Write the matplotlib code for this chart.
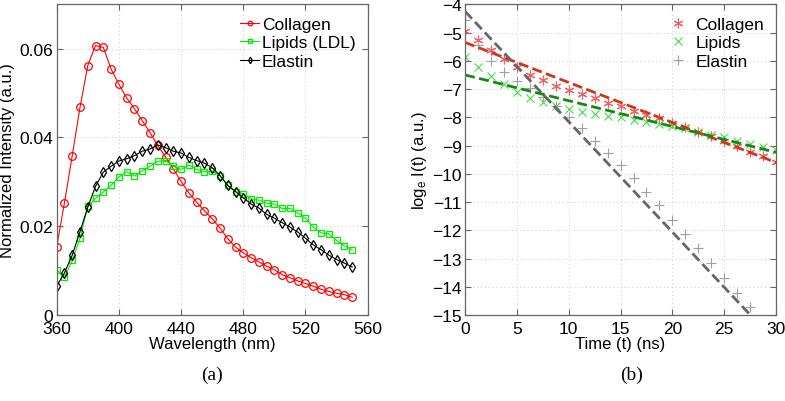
import numpy as np
import matplotlib
matplotlib.use("Agg")
import matplotlib.pyplot as plt

plt.rcParams['font.family'] = ['Liberation Sans', 'DejaVu Sans']
plt.rcParams['mathtext.fontset'] = 'custom'
plt.rcParams['mathtext.rm'] = 'Liberation Sans'
plt.rcParams['mathtext.it'] = 'Liberation Sans:italic'

# ----------------------------
# DATA (a) emission spectra
# ----------------------------
wavelength = np.arange(360, 555, 5)

collagen = [0.0153, 0.0253, 0.0359, 0.0468, 0.0562, 0.0607, 0.0603, 0.0554,
            0.0520, 0.0489, 0.0465, 0.0438, 0.0411, 0.0382, 0.0356, 0.0329,
            0.0301, 0.0275, 0.0254, 0.0235, 0.0217, 0.0196, 0.0172, 0.0153,
            0.0140, 0.0129, 0.0120, 0.0110, 0.0102, 0.0091, 0.0084, 0.0077,
            0.0071, 0.0065, 0.0058, 0.0053, 0.0049, 0.0046, 0.0040]

lipids = [0.0102, 0.0085, 0.0123, 0.0173, 0.0245, 0.0263, 0.0277, 0.0292,
          0.0311, 0.0323, 0.0313, 0.0325, 0.0335, 0.0346, 0.0348, 0.0335,
          0.0328, 0.0338, 0.0328, 0.0323, 0.0324, 0.0314, 0.0293, 0.0278,
          0.0273, 0.0262, 0.0259, 0.0252, 0.0250, 0.0240, 0.0240, 0.0230,
          0.0218, 0.0198, 0.0185, 0.0183, 0.0168, 0.0156, 0.0147]

elastin = [0.0065, 0.0095, 0.0135, 0.0188, 0.0243, 0.0290, 0.0322, 0.0335,
           0.0347, 0.0352, 0.0359, 0.0369, 0.0374, 0.0383, 0.0377, 0.0369,
           0.0365, 0.0355, 0.0348, 0.0342, 0.0332, 0.0314, 0.0292, 0.0278,
           0.0264, 0.0250, 0.0241, 0.0227, 0.0218, 0.0208, 0.0198, 0.0187,
           0.0173, 0.0158, 0.0147, 0.0135, 0.0125, 0.0117, 0.0108]

# ----------------------------
# DATA (b) decay curves
# ----------------------------
time_ns = np.arange(0, 30.01, 1.25)

collagen_log = [-4.93, -5.26, -5.62, -5.94, -6.23, -6.49, -6.68, -6.88, -7.02,
                -7.18, -7.33, -7.49, -7.61, -7.77, -7.92, -8.04, -8.20, -8.36,
                -8.51, -8.65, -8.83, -9.03, -9.22, -9.38, -9.57]

lipids_log = [-5.86, -6.21, -6.53, -6.82, -7.09, -7.30, -7.45, -7.61, -7.71,
              -7.80, -7.88, -7.95, -8.00, -8.08, -8.16, -8.24, -8.32, -8.39,
              -8.51, -8.63, -8.71, -8.83, -8.95, -9.06, -9.15]

elastin_log = [-4.54, -5.43, -6.01, -6.40, -6.71, -6.97, -7.29, -7.61, -8.00,
               -8.39, -8.83, -9.25, -9.70, -10.16, -10.63, -11.10, -11.62,
               -12.13, -12.64, -13.16, -13.70, -14.22, -14.73]

# linear fits (end points)
fit_t = [0, 30]
collagen_fit = [-5.35, -9.60]
lipids_fit = [-6.50, -9.24]
elastin_fit = [-4.25, -15.97]

# ----------------------------
# FIGURE
# ----------------------------
fig = plt.figure(figsize=(7.85, 4.02), dpi=100)
ax1 = fig.add_axes([0.0722, 0.2139, 0.3962, 0.7729])
ax2 = fig.add_axes([0.5924, 0.2139, 0.3962, 0.7729])


def style_axes(ax):
    for s in ax.spines.values():
        s.set_color('#666666')
        s.set_linewidth(0.9)
    ax.tick_params(direction='in', top=True, right=True, length=4,
                   color='#666666', labelsize=12.5, pad=2.5)
    ax.tick_params(axis='x', pad=4)
    ax.grid(True, linestyle=(0, (1, 3)), color='#c8c8c8', linewidth=0.7)
    ax.set_axisbelow(True)


# ----------------------------
# (a)
# ----------------------------
ax1.plot(wavelength, collagen, '-o', color='red', lw=0.8, ms=5.5,
         mfc='none', mew=0.9, label='Collagen')
ax1.plot(wavelength, lipids, '-s', color='#00ee00', lw=0.8, ms=5,
         mfc='none', mew=0.9, label='Lipids (LDL)')
ax1.plot(wavelength, elastin, '-d', color='black', lw=0.8, ms=5.5,
         mfc='none', mew=0.9, label='Elastin')
ax1.set_xlim(360, 560)
ax1.set_ylim(0, 0.07)
ax1.set_xticks([360, 400, 440, 480, 520, 560])
ax1.set_yticks([0, 0.02, 0.04, 0.06])
ax1.set_yticklabels(['0', '0.02', '0.04', '0.06'])
style_axes(ax1)
ax1.set_xlabel('Wavelength (nm)', fontsize=12, labelpad=0)
ax1.set_ylabel('Normalized Intensity (a.u.)', fontsize=12, labelpad=3)
ax1.legend(loc='upper right', frameon=False, fontsize=12.5, handlelength=1.1,
           handletextpad=0.15, labelspacing=0.2, borderaxespad=0.3,
           markerscale=0.6)

# ----------------------------
# (b)
# ----------------------------
ax2.plot(time_ns, collagen_log, ls='none', marker=(6, 2, 0), ms=7,
         color='#f06060', mew=0.8, label='Collagen')
ax2.plot(time_ns, lipids_log, ls='none', marker='x', ms=5.5,
         color='#44dd44', mew=0.8, label='Lipids')
ax2.plot(time_ns[:len(elastin_log)], elastin_log, ls='none', marker='+',
         ms=7, color='#a0a0a0', mew=0.8, label='Elastin')
ax2.plot(fit_t, collagen_fit, ls=(0, (3.6, 1.6)), lw=2, color='#d2351c')
ax2.plot(fit_t, lipids_fit, ls=(0, (3.6, 1.6)), lw=2, color='#148a14')
ax2.plot(fit_t, elastin_fit, ls=(0, (3.6, 1.6)), lw=2, color='#666666')
ax2.set_xlim(0, 30)
ax2.set_ylim(-15, -4)
ax2.set_xticks(range(0, 31, 5))
ax2.set_yticks(range(-15, -3))
style_axes(ax2)
ax2.set_xlabel('Time (t) (ns)', fontsize=12, labelpad=0)
ax2.set_ylabel('log$_\\mathrm{e}$ I(t) (a.u.)', fontsize=12, labelpad=2)
ax2.legend(loc='upper right', frameon=False, fontsize=12.5, handlelength=0.8,
           handletextpad=0.6, labelspacing=0.2, borderaxespad=0.3,
           numpoints=1)

# captions
fig.text(0.27, 0.067, '(a)', fontsize=14, ha='center', va='center',
         family=['Liberation Serif', 'DejaVu Serif'])
fig.text(0.805, 0.067, '(b)', fontsize=14, ha='center', va='center',
         family=['Liberation Serif', 'DejaVu Serif'])

fig.savefig('out.png', dpi=100)
